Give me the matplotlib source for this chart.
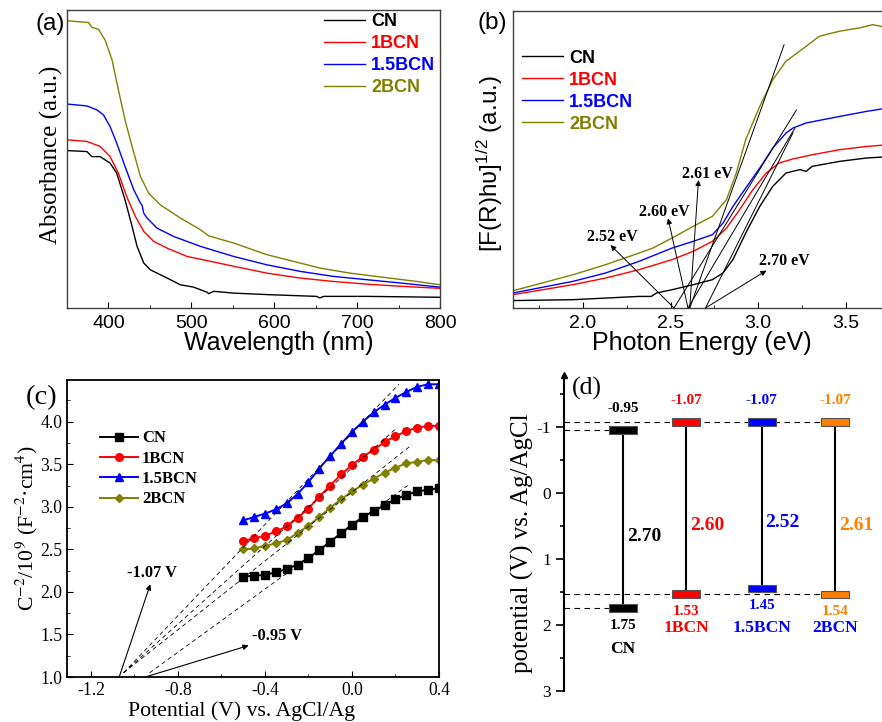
import matplotlib
matplotlib.use("Agg")
import matplotlib.pyplot as plt
from matplotlib.ticker import MultipleLocator

SANS = "Liberation Sans"
SERIF = "Liberation Serif"
plt.rcParams["font.family"] = SANS
plt.rcParams["axes.unicode_minus"] = False
plt.rcParams["mathtext.fontset"] = "custom"
plt.rcParams["mathtext.rm"] = SANS
plt.rcParams["mathtext.it"] = SANS + ":italic"
plt.rcParams["mathtext.bf"] = SANS + ":bold"

names = ["CN", "1BCN", "1.5BCN", "2BCN"]
colors = ["#000000", "#FF0000", "#0000FF", "#808000"]

# ---- (a) UV-vis absorbance ----
abs_x = [
    [352, 374, 380, 390, 402, 410, 420, 428.5, 434.5, 442.6, 450.6, 470.7, 486.7, 502.8,
     518.9, 521, 527, 551, 591, 651, 655, 660, 711.6, 800],
    [352, 374, 390, 402, 412, 422, 432.5, 442.6, 454.6, 470.7, 494.8, 519, 551, 591, 631,
     671.5, 711.6, 752, 800],
    [352, 374, 386, 394, 402, 410, 420, 430.5, 438.6, 440.5, 442.6, 446.6, 458.6, 478.7,
     510.8, 551, 591, 631, 671.5, 711.6, 752, 800],
    [352, 362, 376, 380, 388, 396, 404.4, 412, 420, 428.5, 438.6, 448.6, 462.7, 486.7,
     510.8, 521, 551, 591, 631, 655, 691.6, 731.7, 772, 800],
]
abs_y = [
    [0.528, 0.525, 0.508, 0.508, 0.486, 0.4525, 0.363, 0.274, 0.207, 0.151, 0.128, 0.1006,
     0.078, 0.070, 0.053, 0.048, 0.056, 0.050, 0.045, 0.039, 0.034, 0.039, 0.039, 0.036],
    [0.564, 0.559, 0.542, 0.508, 0.4525, 0.374, 0.307, 0.257, 0.2235, 0.201, 0.173, 0.159,
     0.140, 0.117, 0.1006, 0.089, 0.080, 0.073, 0.066],
    [0.684, 0.678, 0.665, 0.648, 0.609, 0.553, 0.475, 0.397, 0.352, 0.345, 0.318, 0.302,
     0.268, 0.240, 0.207, 0.173, 0.145, 0.123, 0.106, 0.095, 0.084, 0.070],
    [0.964, 0.961, 0.958, 0.942, 0.935, 0.899, 0.832, 0.732, 0.631, 0.542, 0.441, 0.385,
     0.346, 0.302, 0.263, 0.242, 0.218, 0.179, 0.151, 0.134, 0.117, 0.103, 0.089, 0.078],
]

# ---- (b) Tauc plot ----
tauc_x = [
    [1.6, 1.943, 2.32, 2.39, 2.42, 2.51, 2.63, 2.74, 2.80, 2.857, 2.93, 3.01, 3.085, 3.16,
     3.24, 3.275, 3.31, 3.47, 3.62, 3.706],
    [1.6, 1.943, 2.13, 2.32, 2.51, 2.63, 2.74, 2.82, 2.895, 2.97, 3.047, 3.12, 3.2, 3.31,
     3.466, 3.62, 3.706],
    [1.6, 1.943, 2.13, 2.32, 2.51, 2.63, 2.74, 2.80, 2.857, 2.93, 3.01, 3.085, 3.16, 3.2,
     3.275, 3.466, 3.62, 3.706],
    [1.6, 1.943, 2.13, 2.32, 2.40, 2.51, 2.63, 2.74, 2.82, 2.876, 2.93, 3.01, 3.085, 3.16,
     3.275, 3.35, 3.466, 3.58, 3.656, 3.706],
]
tauc_y = [
    [0.025, 0.028, 0.039, 0.039, 0.0505, 0.0617, 0.0786, 0.0954, 0.118, 0.163, 0.2525,
     0.342, 0.410, 0.4545, 0.466, 0.460, 0.477, 0.494, 0.505, 0.508],
    [0.045, 0.0786, 0.101, 0.129, 0.163, 0.191, 0.2245, 0.269, 0.331, 0.398, 0.4545, 0.488,
     0.502, 0.516, 0.533, 0.544, 0.548],
    [0.0505, 0.0898, 0.118, 0.157, 0.202, 0.2245, 0.247, 0.286, 0.342, 0.404, 0.471, 0.539,
     0.589, 0.606, 0.623, 0.645, 0.662, 0.670],
    [0.058, 0.112, 0.146, 0.185, 0.202, 0.236, 0.275, 0.309, 0.365, 0.4545, 0.567, 0.679,
     0.769, 0.831, 0.881, 0.915, 0.932, 0.943, 0.954, 0.948],
]
band_gap = [2.70, 2.60, 2.52, 2.61]
tangent_end = [(3.20, 0.59), (3.21, 0.605), (3.22, 0.667), (3.149, 0.886)]
gap_head = [(3.048, 0.126), (2.486, 0.302), (2.157, 0.212), (2.66, 0.431)]
gap_text = [(3.153, 0.158), (2.467, 0.324), (2.168, 0.24), (2.713, 0.451)]

# ---- (c) Mott-Schottky ----
ms_x = [-0.50, -0.45, -0.40, -0.35, -0.30, -0.25, -0.20, -0.15, -0.10, -0.05,
        0.00, 0.05, 0.10, 0.15, 0.20, 0.25, 0.30, 0.35, 0.40]
ms_y = [
    [2.18, 2.19, 2.20, 2.23, 2.27, 2.32, 2.40, 2.49, 2.59, 2.69, 2.79, 2.88, 2.95, 3.02,
     3.09, 3.14, 3.18, 3.20, 3.22],
    [2.60, 2.63, 2.66, 2.71, 2.77, 2.87, 2.98, 3.12, 3.25, 3.38, 3.49, 3.59, 3.67, 3.76,
     3.83, 3.89, 3.93, 3.95, 3.95],
    [2.84, 2.88, 2.92, 2.97, 3.04, 3.15, 3.29, 3.45, 3.60, 3.74, 3.88, 4.00, 4.11, 4.20,
     4.28, 4.35, 4.41, 4.44, 4.44],
    [2.50, 2.51, 2.54, 2.57, 2.61, 2.69, 2.78, 2.88, 2.99, 3.09, 3.18, 3.26, 3.33, 3.40,
     3.46, 3.51, 3.53, 3.55, 3.55],
]
markers = ["s", "o", "^", "D"]
flat_band = [-0.95, -1.07, -1.07, -1.07]
fit_end = [(0.256, 3.25), (0.207, 3.93), (0.215, 4.44), (0.276, 3.73)]

# ---- (d) band positions ----
cb = [-0.95, -1.07, -1.07, -1.07]
vb = [1.75, 1.53, 1.45, 1.54]
gaps = ["2.70", "2.60", "2.52", "2.61"]
d_colors = ["#000000", "#FF0000", "#0000FF", "#FF8000"]
name_colors = ["#000000", "#FF0000", "#0000FF", "#0000FF"]
xpos = [0.93, 1.92, 3.11, 4.26]

W, H = 882, 722
fig = plt.figure(figsize=(W / 100, H / 100), dpi=100)


def box(l, t, r, b):
    return [l / W, 1 - b / H, (r - l) / W, (b - t) / H]


def ftxt(x, y, s, **kw):
    fig.text(x / W, 1 - y / H, s, ha="center", va="center", **kw)


ax_a = fig.add_axes(box(67, 10, 440, 308))
ax_b = fig.add_axes(box(513, 11, 890, 308))
ax_c = fig.add_axes(box(67, 380, 439, 677))
ax_d = fig.add_axes(box(564, 375, 882, 691))

# (a)
for x, y, c, n in zip(abs_x, abs_y, colors, names):
    ax_a.plot(x, y, color=c, lw=1, label=n)
ax_a.set_xlim(350, 800)
ax_a.set_ylim(0, 1)
ax_a.set_yticks([])
ax_a.set_xticks([400, 500, 600, 700, 800])
ax_a.xaxis.set_minor_locator(MultipleLocator(50))
ax_a.tick_params(axis="x", which="both", direction="in", labelsize=14, pad=5)
ax_a.tick_params(axis="x", which="major", length=4)
ax_a.tick_params(axis="x", which="minor", length=2)
leg = ax_a.legend(loc="upper left", bbox_to_anchor=(0.689, 0.99), frameon=False,
                  prop={"family": SANS, "weight": "bold", "size": 13},
                  handlelength=2.28, handletextpad=0.32, labelspacing=0.28,
                  borderpad=0, borderaxespad=0)
for t, c in zip(leg.get_texts(), colors):
    t.set_color(c)

# (b)
for x, y, c, n in zip(tauc_x, tauc_y, colors, names):
    ax_b.plot(x, y, color=c, lw=1, label=n)
for eg, (xe, ye) in zip(band_gap, tangent_end):
    ax_b.plot([eg, xe], [0, ye], color="k", lw=0.7)
for eg, head, pos, in zip(band_gap, gap_head, gap_text):
    ax_b.annotate("", xy=head, xytext=(eg, 0),
                  arrowprops=dict(arrowstyle="-|>", lw=0.7, color="k",
                                  mutation_scale=8, shrinkA=0, shrinkB=0))
    ax_b.text(pos[0], pos[1], "%.2f eV" % eg, ha="center", va="center",
              family=SERIF, weight="bold", fontsize=11.5)
ax_b.set_xlim(1.6, 1.6 + 377 / 175)
ax_b.set_ylim(0, 1)
ax_b.set_yticks([])
ax_b.set_xticks([2.0, 2.5, 3.0, 3.5])
ax_b.xaxis.set_minor_locator(MultipleLocator(0.25))
ax_b.tick_params(axis="x", which="both", direction="in", labelsize=14, pad=5)
ax_b.tick_params(axis="x", which="major", length=4)
ax_b.tick_params(axis="x", which="minor", length=2)
leg = ax_b.legend(loc="upper left", bbox_to_anchor=(0.024, 0.87), frameon=False,
                  prop={"family": SANS, "weight": "bold", "size": 13},
                  handlelength=2.28, handletextpad=0.32, labelspacing=0.28,
                  borderpad=0, borderaxespad=0)
for t, c in zip(leg.get_texts(), colors):
    t.set_color(c)

for ax in (ax_a, ax_b):
    for s in ax.spines.values():
        s.set_color("#404040")
        s.set_linewidth(1.0)

# (c)
for y, c, m, n in zip(ms_y, colors, markers, names):
    ax_c.plot(ms_x, y, color=c, marker=m, ms=5.5 if m != "D" else 4.5, lw=1.4, label=n)
for v0, (xe, ye) in zip(flat_band, fit_end):
    ax_c.plot([v0 + 0.02, xe], [1.05, ye], color="k", lw=0.6, ls=(0, (5, 4)))
ax_c.annotate("", xy=(-0.927, 2.09), xytext=(-1.07, 1.0),
              arrowprops=dict(arrowstyle="-|>", lw=0.8, color="k",
                              mutation_scale=8, shrinkA=0, shrinkB=0))
ax_c.annotate("", xy=(-0.475, 1.37), xytext=(-0.95, 1.0),
              arrowprops=dict(arrowstyle="-|>", lw=0.8, color="k",
                              mutation_scale=8, shrinkA=0, shrinkB=0))
ax_c.text(-0.92, 2.22, "-1.07 V", ha="center", va="center", family=SERIF,
          weight="bold", fontsize=11.8)
ax_c.text(-0.345, 1.48, "-0.95 V", ha="center", va="center", family=SERIF,
          weight="bold", fontsize=11.8)
ax_c.set_xlim(-1.31, 0.4)
ax_c.set_ylim(1.0, 4.49)
ax_c.set_xticks([-1.2, -0.8, -0.4, 0.0, 0.4])
ax_c.set_yticks([1.0, 1.5, 2.0, 2.5, 3.0, 3.5, 4.0])
ax_c.xaxis.set_minor_locator(MultipleLocator(0.2))
ax_c.yaxis.set_minor_locator(MultipleLocator(0.25))
ax_c.tick_params(which="both", direction="in", labelsize=12.7)
ax_c.tick_params(which="major", length=4)
ax_c.tick_params(which="minor", length=2)
for lbl in ax_c.get_xticklabels() + ax_c.get_yticklabels():
    lbl.set_family(SERIF)
for s in ax_c.spines.values():
    s.set_linewidth(1.3)
leg = ax_c.legend(loc="upper left", bbox_to_anchor=(0.089, 0.83), frameon=False,
                  prop={"family": SERIF, "weight": "bold", "size": 12},
                  handlelength=2.3, handletextpad=0.22, labelspacing=0.26,
                  borderpad=0, borderaxespad=0)

# (d)
for i in range(4):
    ax_d.plot([xpos[i], xpos[i]], [cb[i], vb[i]], color="k", lw=1.5, zorder=2)
    for v in (cb[i], vb[i]):
        ax_d.bar(xpos[i], 0.12, bottom=v - 0.06, width=0.44, color=d_colors[i],
                 edgecolor="#555555", lw=0.8, zorder=3)
    ax_d.text(xpos[i], cb[i] - 0.32, "%.2f" % cb[i], ha="center", va="center",
              family=SERIF, weight="bold", fontsize=11, color=d_colors[i])
    ax_d.text(xpos[i], vb[i] + 0.26, "%.2f" % vb[i], ha="center", va="center",
              family=SERIF, weight="bold", fontsize=11, color=d_colors[i])
    ax_d.text(xpos[i] + 0.33, (cb[i] + vb[i]) / 2 + 0.26,
              gaps[i], ha="center", va="center", family=SERIF, weight="bold",
              fontsize=14, color=d_colors[i])
    ax_d.text(xpos[i], 2.37 if i == 0 else 2.04, names[i], ha="center", va="center",
              family=SERIF, weight="bold", fontsize=12.6, color=name_colors[i])

right_edge = xpos[3] + 0.22
ax_d.hlines([cb[1], vb[3]], 0, right_edge, colors="k", lw=0.8, linestyles=(0, (5, 4)), zorder=1)
ax_d.hlines([cb[0], vb[0]], 0, xpos[0] - 0.22, colors="k", lw=0.8,
            linestyles=(0, (5, 4)), zorder=1)
ax_d.set_xlim(0, 5)
ax_d.set_ylim(3, -1.78)
ax_d.set_xticks([])
ax_d.set_yticks([-1, 0, 1, 2, 3])
ax_d.yaxis.set_minor_locator(MultipleLocator(0.5))
ax_d.tick_params(axis="y", which="both", direction="out", labelsize=12.5, width=1.2)
ax_d.tick_params(axis="y", which="major", length=6)
ax_d.tick_params(axis="y", which="minor", length=3)
for lbl in ax_d.get_yticklabels():
    lbl.set_family(SERIF)
for side in ("top", "right", "bottom"):
    ax_d.spines[side].set_visible(False)
ax_d.spines["left"].set_linewidth(1.5)
ax_d.spines["left"].set_bounds(-1.78, 3)
ax_d.plot(0, 1, marker="^", ms=5, color="k", transform=ax_d.transAxes, clip_on=False)
ax_d.patch.set_visible(False)

# axis labels and panel tags
ftxt(279, 343, "Wavelength (nm)", fontsize=18, family=SANS)
ftxt(51, 155, "Absorbance (a.u.)", fontsize=18, family=SERIF, rotation=90)
ftxt(702, 343, "Photon Energy (eV)", fontsize=18, family=SANS)
ftxt(490, 164, "[F(R)hʋ]$^{1/2}$ (a.u.)", fontsize=17.5, family=[SANS, "DejaVu Sans"],
     rotation=90)
ftxt(241, 711, "Potential (V) vs. AgCl/Ag", fontsize=15.7, family=SERIF)
ftxt(27, 528, "C$^{-2}$/10$^{9}$ (F$^{-2}$·cm$^{4}$)", fontsize=15.7, family=SERIF,
     rotation=90, math_fontfamily="stix")
ftxt(522, 543, "potential (V) vs. Ag/AgCl", fontsize=18, family=SERIF, rotation=90)
ftxt(50, 24, "(a)", fontsize=17.5, family=SANS)
ftxt(492, 23, "(b)", fontsize=17.5, family=SANS)
ftxt(42, 398, "(c)", fontsize=20.5, family=SERIF)
ftxt(587, 388, "(d)", fontsize=18.5, family=SERIF)

fig.savefig("out.png", dpi=100)
